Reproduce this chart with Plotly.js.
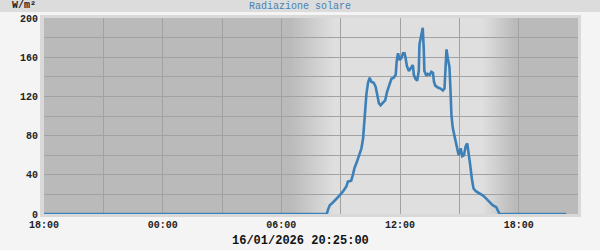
<!DOCTYPE html>
<html><head><meta charset="utf-8">
<script src="https://cdn.plot.ly/plotly-3.0.1.min.js"></script>
<style>html,body{margin:0;padding:0;background:#f4f4f4;}#chart{width:600px;height:250px;}</style>
</head><body><div id="chart"></div>
<script>
// ---- data ----
const startDay = '2026-01-15';
const dataDay = '2026-01-16';
const rangeStart = '2026-01-15 18:00';
const rangeEnd = '2026-01-16 21:00';
const stampText = '16/01/2026 20:25:00';
const chartTitle = 'Radiazione solare';
const unitText = 'W/m²';

const times = ['08:18','08:21','08:27','08:37','08:47','08:57','09:07','09:17','09:22','09:32',
  '09:37','09:42','09:49','09:55','10:03','10:08','10:11','10:14','10:18','10:23',
  '10:28','10:33','10:40','10:46','10:51','10:56','11:01','11:08','11:15','11:21',
  '11:27','11:34','11:41','11:47','11:50','11:54','11:59','12:04','12:09','12:14',
  '12:17','12:21','12:27','12:34','12:39','12:42','12:47','12:52','12:57','12:59',
  '13:04','13:09','13:12','13:14','13:20','13:24','13:30','13:35','13:40','13:43',
  '13:47','13:55','14:03','14:10','14:15','14:18','14:21','14:25','14:30','14:33',
  '14:36','14:40','14:44','14:48','14:52','14:58','15:04','15:09','15:14','15:19',
  '15:24','15:28','15:33','15:38','15:43','15:51','16:01','16:11','16:21','16:31',
  '16:41','16:52','16:57','17:02','20:24'];
const radiation = [0,4,9,12,15,19,23,28,33,34,
  40,47,53,60,67,77,91,108,122,134,
  139,135,134,130,122,113,111,113,116,125,
  132,138,139,142,156,164,157,159,164,164,
  159,151,146,149,152,142,138,136,146,173,
  181,190,169,146,141,143,142,145,144,135,
  131,129,128,126,128,146,168,159,150,128,
  101,88,81,76,67,60,67,59,60,69,
  72,64,50,36,26,23,21,19,16,12,
  9,7,4,0,0];

const xTickVals = ['2026-01-15 18:00','2026-01-15 21:00','2026-01-16 00:00','2026-01-16 03:00',
  '2026-01-16 06:00','2026-01-16 09:00','2026-01-16 12:00','2026-01-16 15:00','2026-01-16 18:00'];
const xTickText = ['18:00','','00:00','','06:00','','12:00','','18:00'];
const yTickVals = [0,20,40,60,80,100,120,140,160,180,200];
const yTickText = ['0','','40','','80','','120','','160','','200'];

// twilight shading (time of day on data day)
const shadeTimes = ['06:25','07:35','08:40','16:10','17:00','17:50'];
const shadeLevels = ['night','twilight','day','day','twilight','night'];

// ---- styles ----
const colors = {night:'#bababa', twilight:'#cdcdcd', day:'#dfdfdf'};
const FONT = 'Liberation Mono, DejaVu Sans Mono, monospace';

const xs = [startDay + ' 18:00'].concat(times.map(t => dataDay + ' ' + t));
const ys = [0].concat(radiation);

// background gradient image
function frac(t){
  const [h,m] = t.split(':').map(Number);
  return (h + m/60 + 24 - 18) / 27;
}
const cv = document.createElement('canvas');
cv.width = 540; cv.height = 2;
const ctx = cv.getContext('2d');
const g = ctx.createLinearGradient(0,0,cv.width,0);
g.addColorStop(0, colors.night);
shadeTimes.forEach((t,i) => g.addColorStop(frac(t), colors[shadeLevels[i]]));
g.addColorStop(1, colors.night);
ctx.fillStyle = g; ctx.fillRect(0,0,cv.width,cv.height);

const L = 44, R = 22, T = 18, B = 36;
const PW = 600 - L - R, PH = 250 - T - B;
const px = v => (v - L) / PW;           // page x -> paper
const py = v => (250 - B - v) / PH;     // page y -> paper

const trace = {
  x: xs, y: ys, type:'scatter', mode:'lines',
  line:{color:'#3d80b8', width:2.6},
  hoverinfo:'skip'
};

const layout = {
  width:600, height:250,
  margin:{l:L, r:R, t:T, b:B, pad:0},
  paper_bgcolor:'#f4f4f4',
  plot_bgcolor:'rgba(0,0,0,0)',
  showlegend:false,
  title:{text:chartTitle, font:{family:FONT, size:10, color:'#4682b4'},
    x:0.5, xanchor:'center', xref:'container', y:1-5.5/250, yanchor:'middle', yref:'container'},
  xaxis:{type:'date', range:[rangeStart, rangeEnd], tickmode:'array',
    tickvals:xTickVals, ticktext:xTickText, showgrid:true, gridcolor:'#a2a2a2', gridwidth:1,
    zeroline:false, showline:false, ticks:'', ticklabelstandoff:3,
    tickfont:{family:FONT, size:10, color:'#222', weight:'bold'}},
  yaxis:{range:[0,200], tickmode:'array', tickvals:yTickVals, ticktext:yTickText,
    showgrid:true, gridcolor:'#a2a2a2', gridwidth:1, zeroline:false, showline:false,
    ticks:'', ticklabelstandoff:5,
    tickfont:{family:FONT, size:10, color:'#222', weight:'bold'}},
  shapes:[
    {type:'rect', xref:'paper', yref:'paper', layer:'below',
      x0:px(0), x1:px(600), y0:py(12), y1:py(0), fillcolor:'#dcdcdc', line:{width:0}},
    {type:'rect', xref:'paper', yref:'paper', layer:'below',
      x0:px(40), x1:px(581), y0:py(217), y1:py(15), fillcolor:'#d9d9d9', line:{width:0}}
  ],
  images:[{source:cv.toDataURL(), xref:'x domain', yref:'y domain', x:0, y:1,
    sizex:1, sizey:1, sizing:'stretch', xanchor:'left', yanchor:'top', layer:'below'}],
  annotations:[
    {text:unitText, xref:'paper', yref:'paper', x:px(10), y:py(5.5), xanchor:'left', yanchor:'middle',
      showarrow:false, font:{family:FONT, size:10, color:'#222', weight:'bold'}},
    {text:stampText, xref:'paper', yref:'paper', x:px(300), y:py(241), xanchor:'center', yanchor:'middle',
      showarrow:false, font:{family:FONT, size:12, color:'#111', weight:'bold'}}
  ]
};

Plotly.newPlot('chart', [trace], layout, {staticPlot:true, displayModeBar:false});
</script></body></html>
